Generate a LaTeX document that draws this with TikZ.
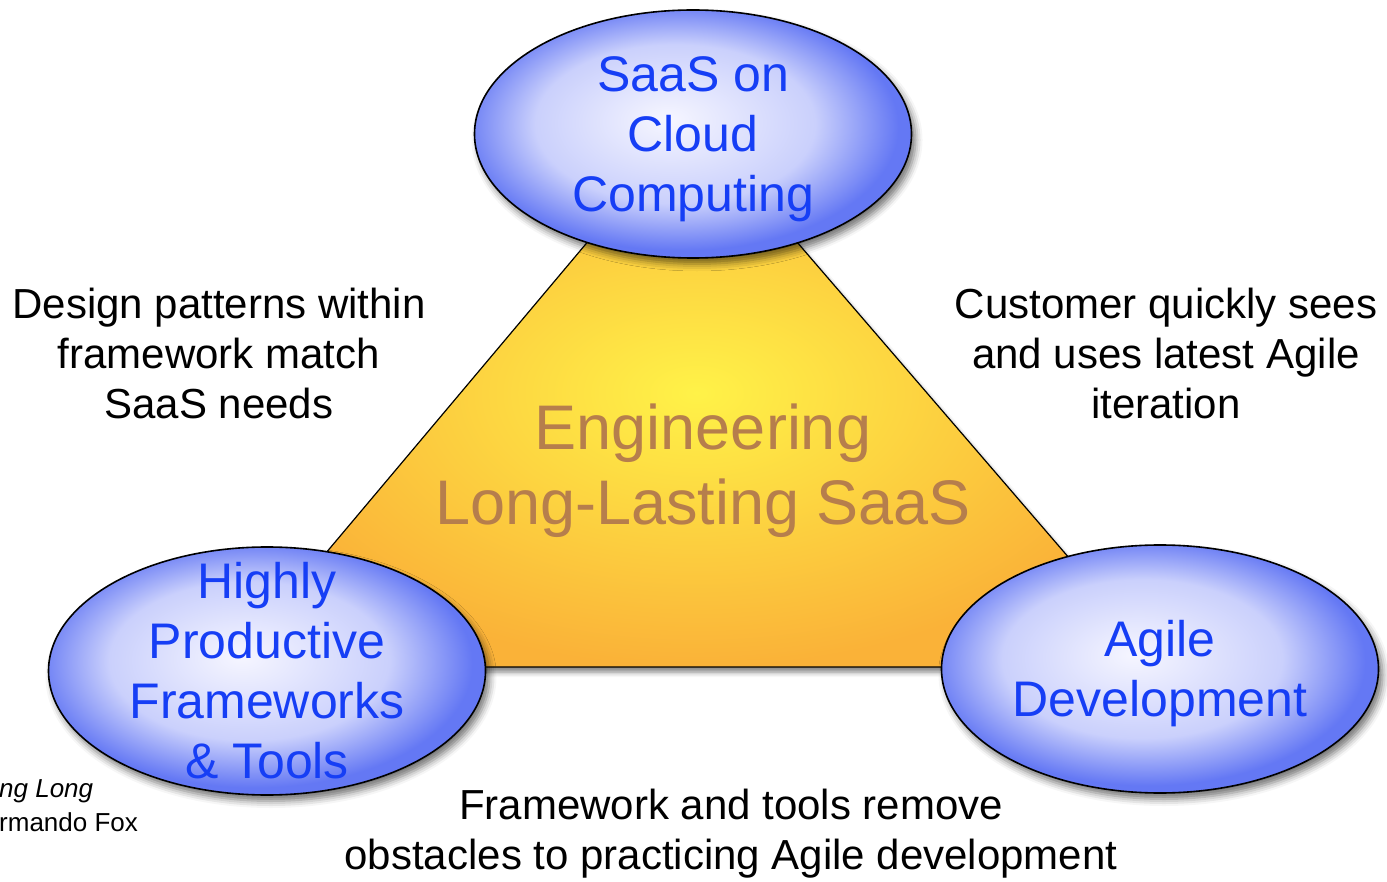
\documentclass[tikz,border=0pt]{standalone}
\usepackage{fontspec}
\setmainfont{Liberation Sans}
\usetikzlibrary{shapes.geometric, shadows.blur, positioning}

\definecolor{ovalblue}{RGB}{100,120,244}
\definecolor{ovalmid}{RGB}{202,208,252}
\definecolor{ovalcore}{RGB}{246,246,255}
\definecolor{labelblue}{RGB}{22,62,245}
\definecolor{triyellow}{RGB}{255,242,72}
\definecolor{triorange}{RGB}{250,178,56}
\definecolor{titlebrown}{RGB}{182,126,76}

\pgfdeclareradialshading{ovalshade}{\pgfpoint{-3bp}{3bp}}{%
  color(0bp)=(ovalcore); color(16bp)=(ovalmid); color(25bp)=(ovalblue); color(50bp)=(ovalblue)}

\begin{document}
\begin{tikzpicture}[
    x=1pt, y=-1pt, % one unit per pixel, y grows downwards
    oval/.style={ellipse, draw, line width=1.6pt, minimum width=437pt, minimum height=248pt,
      inner sep=0pt, shading=ovalshade,
      blur shadow={shadow xshift=4pt, shadow yshift=-6pt, shadow blur radius=7pt, shadow opacity=55}},
    ovaltext/.style={text=labelblue, align=center, font={\fontsize{50}{60}\selectfont}},
    note/.style={align=center, font={\fontsize{42}{50}\selectfont}}, % the black captions
    every node/.style={inner sep=0pt},
  ]
  \useasboundingbox (0,0) rectangle (1387,882);

  % the triangle behind the three ovals
  \coordinate (apex) at (691,119);
  \coordinate (baseleft) at (230,667);
  \coordinate (baseright) at (1163,667);
  \draw[line width=1.2pt, shading=radial, inner color=triyellow, outer color=triorange,
    blur shadow={shadow xshift=2pt, shadow yshift=-5pt, shadow blur radius=5pt, shadow opacity=50}]
    (apex) -- (baseleft) -- (baseright) -- cycle;
  \node[align=center, text=titlebrown, font={\fontsize{63}{75}\selectfont}] (goal) at (703,471)
    {Engineering\\Long-Lasting SaaS};

  \node[oval, label={[ovaltext, yshift=-5pt]center:{SaaS on\\Cloud\\Computing}}] (cloud) at (693,134) {};
  \node[oval, label={[ovaltext]center:{Highly\\Productive\\Frameworks\\\& Tools}}] (tools) at (267,671) {};
  \node[oval, label={[ovaltext, yshift=-5pt]center:{Agile\\Development}}] (agile) at (1160,669) {};

  \node[note] (patterns) at (219,353) {Design patterns within\\framework match\\SaaS needs};
  \node[note] (customer) at (1166,353) {Customer quickly sees\\and uses latest Agile\\iteration};
  \node[note] (obstacles) at (731,834) {Framework and tools remove\\obstacles to practicing Agile development};

  \node[anchor=west, font={\fontsize{26}{31}\selectfont}] (book) at (-1,791) {\textit{ng Long}};
  \node[anchor=west, font={\fontsize{26}{31}\selectfont}] (author) at (-1,822) {rmando Fox};

\end{tikzpicture}
\end{document}
